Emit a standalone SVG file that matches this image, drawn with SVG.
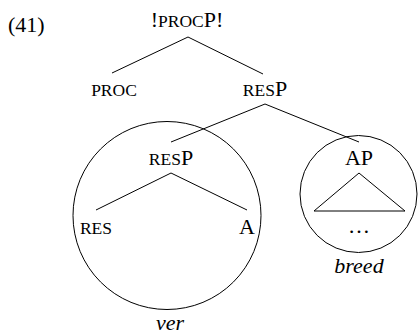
<svg xmlns="http://www.w3.org/2000/svg" width="418" height="336" viewBox="0 0 418 336">
<style>
text{font-family:"Liberation Serif","DejaVu Serif",serif;font-size:22px;fill:#000}
.sc{font-size:17.5px}
.it{font-style:italic}
.e{stroke:#000;stroke-width:1;fill:none}
</style>
<rect width="418" height="336" fill="#fff"/>
<text x="8" y="32" font-size="24">(41)</text>
<g id="procP"><text x="187" y="27" text-anchor="middle">!<tspan class="sc">PROC</tspan>P!</text></g>
<g id="proc"><text x="114" y="96" text-anchor="middle" class="sc">PROC</text></g>
<g id="resP"><text x="265" y="96" text-anchor="middle"><tspan class="sc">RES</tspan>P</text></g>
<g id="verCircle"><circle cx="167" cy="215.5" r="94" class="e"/><text x="170" y="330" text-anchor="middle" class="it">ver</text></g>
<g id="resP2"><text x="171" y="165" text-anchor="middle"><tspan class="sc">RES</tspan>P</text></g>
<g id="res"><text x="96" y="234" text-anchor="middle" class="sc">RES</text></g>
<g id="A"><text x="247" y="234" text-anchor="middle">A</text></g>
<g id="breedCircle"><circle cx="358.5" cy="194" r="58.5" class="e"/><text x="359" y="273" text-anchor="middle" class="it">breed</text></g>
<g id="AP"><text x="359" y="165" text-anchor="middle">AP</text><polygon points="359,173 314,211 405,211" class="e"/><text x="359" y="233" text-anchor="middle">…</text></g>
<g id="connectors" class="e">
<line x1="188" y1="37" x2="112" y2="73"/>
<line x1="188" y1="37" x2="263" y2="74"/>
<line x1="265" y1="104" x2="171" y2="142"/>
<line x1="265" y1="104" x2="359" y2="142"/>
<line x1="171" y1="173" x2="96" y2="210"/>
<line x1="171" y1="173" x2="247" y2="210"/>
</g>
</svg>
